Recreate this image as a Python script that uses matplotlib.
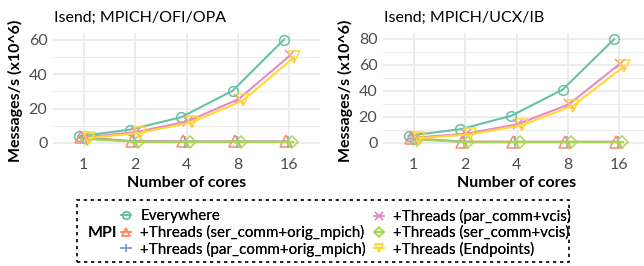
import matplotlib.pyplot as plt
from matplotlib.patches import Rectangle
from matplotlib.lines import Line2D

plt.rcParams['font.family'] = ['Lato', 'DejaVu Sans']

cores = ['1', '2', '4', '8', '16']

series_names = ['Everywhere',
                '+Threads (ser_comm+orig_mpich)',
                '+Threads (par_comm+orig_mpich)',
                '+Threads (par_comm+vcis)',
                '+Threads (ser_comm+vcis)',
                '+Threads (Endpoints)']

# Isend; MPICH/OFI/OPA
opa_everywhere = [3.8, 7.7, 15.0, 30.4, 60.2]
opa_ser_orig = [3.2, 1.0, 0.8, 0.8, 0.8]
opa_par_orig = [3.0, 0.8, 0.7, 0.7, 0.7]
opa_par_vcis = [3.2, 6.3, 12.5, 25.6, 51.0]
opa_ser_vcis = [2.2, 0.5, 0.5, 0.5, 0.5]
opa_endpoints = [2.8, 5.8, 12.0, 24.7, 50.0]

# Isend; MPICH/UCX/IB
ib_everywhere = [5.5, 10.4, 20.8, 41.0, 79.7]
ib_ser_orig = [3.5, 0.9, 0.8, 0.8, 0.8]
ib_par_orig = [3.2, 0.8, 0.7, 0.7, 0.7]
ib_par_vcis = [4.0, 7.0, 14.3, 29.6, 61.0]
ib_ser_vcis = [2.5, 0.5, 0.5, 0.5, 0.5]
ib_endpoints = [3.5, 6.5, 13.5, 28.5, 59.0]

panels = [
    ('Isend; MPICH/OFI/OPA', [opa_everywhere, opa_ser_orig, opa_par_orig, opa_par_vcis, opa_ser_vcis, opa_endpoints],
     [0, 20, 40, 60], (-3.0, 64.0)),
    ('Isend; MPICH/UCX/IB', [ib_everywhere, ib_ser_orig, ib_par_orig, ib_par_vcis, ib_ser_vcis, ib_endpoints],
     [0, 20, 40, 60, 80], (-4.0, 84.5)),
]

colors = ['#66c2a5', '#fc8d62', '#8da0cb', '#e78ac3', '#a6d854', '#ffd92f']
markers = ['o', '^', '+', 'x', 'D', 'v']
msizes = [7, 8, 8, 7, 6, 8]

fig = plt.figure(figsize=(6.44, 2.66), dpi=100)
axes_pos = [[53 / 644, 118 / 266, 267 / 644, 115 / 266],
            [383 / 644, 118 / 266, 267 / 644, 115 / 266]]

for pos, (title, data, yticks, ylim) in zip(axes_pos, panels):
    ax = fig.add_axes(pos)
    for i, vals in enumerate(data):
        xs = [j + (i - 2.5) * 0.04 for j in range(len(cores))]
        ax.plot(xs, vals, color=colors[i], lw=1.5, marker=markers[i], ms=msizes[i],
                mfc='none', mec=colors[i], mew=1.1, zorder=3)
    ax.set_xlim(-0.6, 4.6)
    ax.set_ylim(*ylim)
    ax.set_xticks(range(len(cores)))
    ax.set_xticklabels(cores)
    ax.set_yticks(yticks)
    minor = [(a + b) / 2 for a, b in zip(yticks[:-1], yticks[1:])]
    ax.set_yticks(minor, minor=True)
    ax.grid(True, which='major', color='#ebebeb', lw=1.3)
    ax.grid(True, which='minor', axis='y', color='#ebebeb', lw=0.7)
    ax.set_axisbelow(True)
    for s in ax.spines.values():
        s.set_visible(False)
    ax.tick_params(which='both', length=0, labelsize=11.5, labelcolor='#4d4d4d')
    ax.tick_params(axis='x', pad=7)
    ax.tick_params(axis='y', pad=4)
    ax.set_xlabel('Number of cores', fontsize=11.5, fontweight='bold', labelpad=3)
    ax.set_ylabel('Messages/s (x10^6)', fontsize=11.5, fontweight='bold', labelpad=4)
    ax.set_title(title, fontsize=11.5, loc='left', x=0.005, pad=8)

# legend box
fig.patches.append(Rectangle((77 / 644, 4 / 266), 492 / 644, 62 / 266, transform=fig.transFigure,
                             fill=False, ec='black', lw=1.2, ls=(0, (2, 2.2))))
fig.text(88 / 644, 33 / 266, 'MPI', fontsize=11.5, fontweight='bold', va='center')

handles = [Line2D([], [], color=colors[i], lw=1.2, marker=markers[i], ms=5.5,
                  mfc='none', mec=colors[i], mew=1.1) for i in range(6)]
for k, x0 in enumerate([113, 366]):
    leg = fig.legend(handles[3 * k:3 * k + 3], series_names[3 * k:3 * k + 3], frameon=False,
                     fontsize=10.9, loc='center left', bbox_to_anchor=(x0 / 644, 33 / 266),
                     handlelength=0.7, handletextpad=0.6, labelspacing=0.1, borderpad=0)
    fig.add_artist(leg)

fig.savefig('out.png', dpi=100)
